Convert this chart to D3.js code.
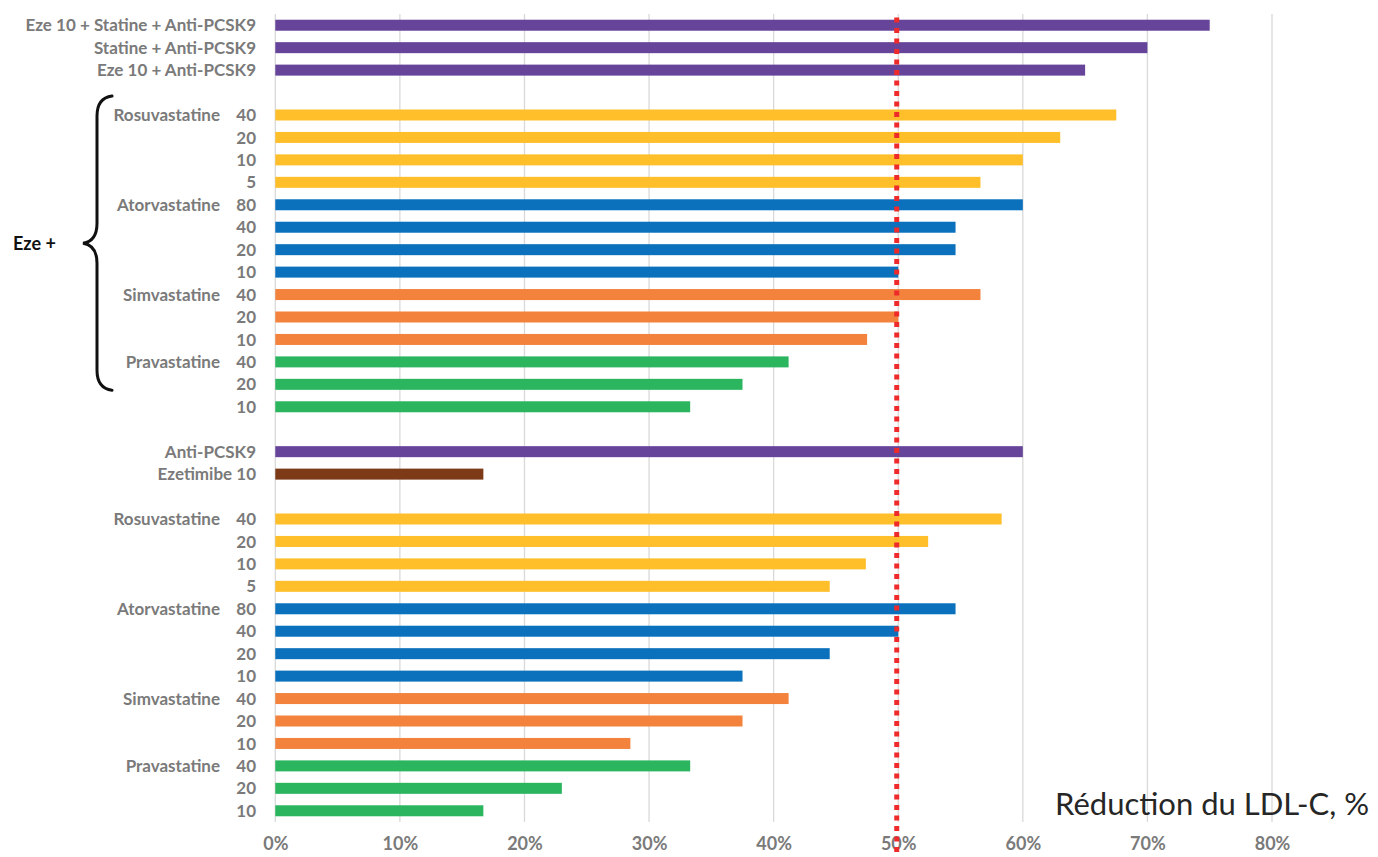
<!DOCTYPE html>
<html>
<head>
<meta charset="utf-8">
<script src="https://cdn.jsdelivr.net/npm/d3@7"></script>
<style>
  html, body { margin: 0; padding: 0; background: #fff; }
  svg { display: block; }
</style>
</head>
<body>
<svg id="chart" width="1378" height="857"></svg>
<script>
// ---- data ----
const rowLabels = [
  "Eze 10 + Statine + Anti-PCSK9", "Statine + Anti-PCSK9", "Eze 10 + Anti-PCSK9", null,
  "Rosuvastatine", "", "", "", "Atorvastatine", "", "", "", "Simvastatine", "", "", "Pravastatine", "", "", null,
  "Anti-PCSK9", "Ezetimibe 10", null,
  "Rosuvastatine", "", "", "", "Atorvastatine", "", "", "", "Simvastatine", "", "", "Pravastatine", "", ""
];
const doseLabels = [
  "", "", "", null,
  "40", "20", "10", "5", "80", "40", "20", "10", "40", "20", "10", "40", "20", "10", null,
  "", "", null,
  "40", "20", "10", "5", "80", "40", "20", "10", "40", "20", "10", "40", "20", "10"
];
const values = [
  75, 70, 65, null,
  67.5, 63, 60, 56.6, 60, 54.6, 54.6, 50, 56.6, 50, 47.5, 41.2, 37.5, 33.3, null,
  60, 16.7, null,
  58.3, 52.4, 47.4, 44.5, 54.6, 50, 44.5, 37.5, 41.2, 37.5, 28.5, 33.3, 23, 16.7
];
const seriesKeys = [
  "combo", "combo", "combo", null,
  "rosu", "rosu", "rosu", "rosu", "ator", "ator", "ator", "ator", "simva", "simva", "simva", "prava", "prava", "prava", null,
  "combo", "eze", null,
  "rosu", "rosu", "rosu", "rosu", "ator", "ator", "ator", "ator", "simva", "simva", "simva", "prava", "prava", "prava"
];
const seriesNames = ["combo", "rosu", "ator", "simva", "prava", "eze"];
const seriesColors = ["#654499", "#FFBF2A", "#0B71BD", "#F3823C", "#2BB55F", "#7D3A17"];
const xTicks = [0, 10, 20, 30, 40, 50, 60, 70, 80];
const threshold = 50;
const axisTitle = "Réduction du LDL-C, %";
const braceLabel = "Eze +";

// ---- layout ----
const svg = d3.select("#chart");
const FONT = "Lato, 'Open Sans', sans-serif";
const gray = "#7a7a7a";

const rows = values.map((v, i) => ({ i, v, label: rowLabels[i], dose: doseLabels[i], key: seriesKeys[i] }));

const x = d3.scaleLinear().domain([0, 80]).range([275.3, 1272]);
const y = d3.scaleBand().domain(d3.range(rows.length)).range([14, 822]).paddingInner(0.51).paddingOuter(0.255);
const color = d3.scaleOrdinal().domain(seriesNames).range(seriesColors);
const yc = i => y(i) + y.bandwidth() / 2;

// gridlines
svg.append("g").selectAll("line").data(xTicks).join("line")
  .attr("x1", d => x(d)).attr("x2", d => x(d))
  .attr("y1", 14).attr("y2", 822)
  .attr("stroke", "#d9d9d9").attr("stroke-width", 1.3);

// x axis tick labels
const xAxis = d3.axisBottom(x).tickValues(xTicks).tickFormat(d => d + "%").tickSize(0).tickPadding(0);
const gx = svg.append("g").attr("transform", "translate(0,837)").call(xAxis);
gx.select(".domain").remove();
gx.selectAll("text")
  .attr("font-family", FONT).attr("font-weight", "bold").attr("font-size", 18)
  .attr("fill", gray).attr("dy", "0.71em");

// bars
const data = rows.filter(r => r.v != null);
svg.append("g").selectAll("rect").data(data).join("rect")
  .attr("x", x(0))
  .attr("y", d => y(d.i))
  .attr("width", d => x(d.v) - x(0))
  .attr("height", y.bandwidth())
  .attr("fill", d => color(d.key));

// labels
const lab = svg.append("g").attr("font-family", FONT).attr("font-weight", "bold").attr("font-size", 17).attr("fill", gray);
lab.selectAll("text.name").data(data.filter(d => d.label)).join("text")
  .attr("class", "name")
  .attr("x", d => d.dose ? 220 : 256)
  .attr("y", d => yc(d.i))
  .attr("dy", "0.36em")
  .attr("text-anchor", "end")
  .text(d => d.label);
lab.selectAll("text.dose").data(data.filter(d => d.dose)).join("text")
  .attr("class", "dose")
  .attr("x", 256)
  .attr("y", d => yc(d.i))
  .attr("dy", "0.36em")
  .attr("text-anchor", "end")
  .text(d => d.dose);

// threshold dotted line
svg.append("line")
  .attr("x1", x(threshold) - 1.5).attr("x2", x(threshold) - 1.5)
  .attr("y1", 17.5).attr("y2", 857)
  .attr("stroke", "#EE2A2A").attr("stroke-width", 5)
  .attr("stroke-dasharray", "5 5.5");

// brace for "Eze +" group
const bTop = yc(4) - 19, bBot = yc(16) + 6, bMid = (bTop + bBot) / 2;
const bx = 97, ex = 112, tipX = 83;
const p = d3.path();
p.moveTo(ex, bTop);
p.quadraticCurveTo(bx, bTop + 2, bx, bTop + 20);
p.lineTo(bx, bMid - 20);
p.quadraticCurveTo(bx, bMid - 2, tipX, bMid);
p.quadraticCurveTo(bx, bMid + 2, bx, bMid + 20);
p.lineTo(bx, bBot - 20);
p.quadraticCurveTo(bx, bBot - 2, ex, bBot);
svg.append("path").attr("d", p.toString())
  .attr("fill", "none").attr("stroke", "#111").attr("stroke-width", 3).attr("stroke-linecap", "round");

svg.append("text")
  .attr("x", 13).attr("y", bMid).attr("dy", "0.36em")
  .attr("font-family", FONT).attr("font-weight", "bold").attr("font-size", 18).attr("fill", "#111")
  .text(braceLabel);

// axis title
svg.append("text")
  .attr("x", 1369).attr("y", 815)
  .attr("text-anchor", "end")
  .attr("font-family", FONT).attr("font-size", 31).attr("fill", "#262626")
  .text(axisTitle);
</script>
</body>
</html>
